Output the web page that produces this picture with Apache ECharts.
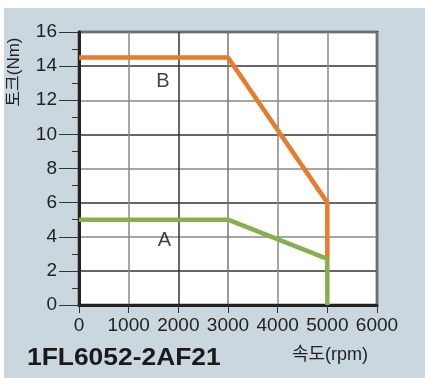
<!DOCTYPE html>
<html><head><meta charset="utf-8">
<script src="https://cdn.jsdelivr.net/npm/echarts@6/dist/echarts.min.js"></script>
<style>html,body{margin:0;padding:0;background:#fff}#c{width:425px;height:378px}</style>
</head><body><div id="c"></div>
<script>
const speedB = [0, 3000, 5000, 5000];
const torqueB = [14.5, 14.5, 6, 2.7];
const speedA = [0, 3000, 5000, 5000];
const torqueA = [5, 5, 2.7, 0];
const curveLabels = ['B', 'A'];
const labelX = [1690, 1720];
const labelY = [13.1, 3.8];
const xTitle = '속도(rpm)';
const yTitle = '토크(Nm)';
const modelName = '1FL6052-2AF21';

const FONT = "'Liberation Sans', Arial, 'Noto Sans CJK KR', sans-serif";
const chart = echarts.init(document.getElementById('c'), null, {renderer: 'canvas'});
chart.setOption({
  animation: false,
  backgroundColor: '#ffffff',
  graphic: [
    {type: 'rect', z: -10, shape: {x: 4, y: 8, width: 421, height: 370}, style: {fill: '#cad7df'}},
    {type: 'text', x: 27, y: 358, scaleX: 1.1, style: {text: modelName, fontSize: 24, fontWeight: 'bold', fontFamily: FONT, fill: '#1a1a1a', verticalAlign: 'middle'}},
    {type: 'text', x: 330, y: 355, style: {text: xTitle, fontSize: 18, fontFamily: FONT, fill: '#222', align: 'center', verticalAlign: 'middle'}},
    {type: 'text', x: 14, y: 72, rotation: Math.PI / 2, style: {text: yTitle, fontSize: 17, fontFamily: FONT, fill: '#222', align: 'center', verticalAlign: 'middle'}}
  ],
  grid: {left: 79, top: 32, right: 48, bottom: 73, show: true, backgroundColor: '#fff', borderColor: '#222', borderWidth: 2.5},
  xAxis: {
    type: 'value', min: 0, max: 6000, interval: 1000,
    axisLine: {show: true, lineStyle: {color: '#222', width: 3}},
    axisTick: {show: true, length: 8, lineStyle: {color: '#333', width: 1}},
    axisLabel: {fontSize: 19, color: '#222', fontFamily: FONT, margin: 11, formatter: v => String(v)},
    splitLine: {show: true, lineStyle: {color: ['#888', '#888', '#333', '#777', '#888', '#888'], width: 1.5}}
  },
  yAxis: {
    type: 'value', min: 0, max: 16, interval: 2,
    axisLine: {show: true, lineStyle: {color: '#222', width: 3}},
    axisTick: {show: true, length: 20, lineStyle: {color: '#333', width: 1}},
    minorTick: {show: true, splitNumber: 2, length: 7, lineStyle: {color: '#333', width: 1}},
    axisLabel: {fontSize: 19, color: '#222', fontFamily: FONT, margin: 22},
    splitLine: {show: true, lineStyle: {color: ['#888', '#333'], width: 1.5}}
  },
  series: [
    {type: 'line', data: speedB.map((x, i) => [x, torqueB[i]]), symbol: 'none', lineStyle: {color: '#e97b2c', width: 4.5}, z: 3},
    {type: 'line', data: speedA.map((x, i) => [x, torqueA[i]]), symbol: 'none', lineStyle: {color: '#86b04e', width: 4.5}, z: 4},
    {type: 'scatter', symbolSize: 0, z: 5,
      data: curveLabels.map((t, i) => ({value: [labelX[i], labelY[i]], name: t})),
      label: {show: true, position: 'inside', formatter: p => p.name, fontSize: 20, color: '#111', fontFamily: FONT}}
  ]
});
</script></body></html>
